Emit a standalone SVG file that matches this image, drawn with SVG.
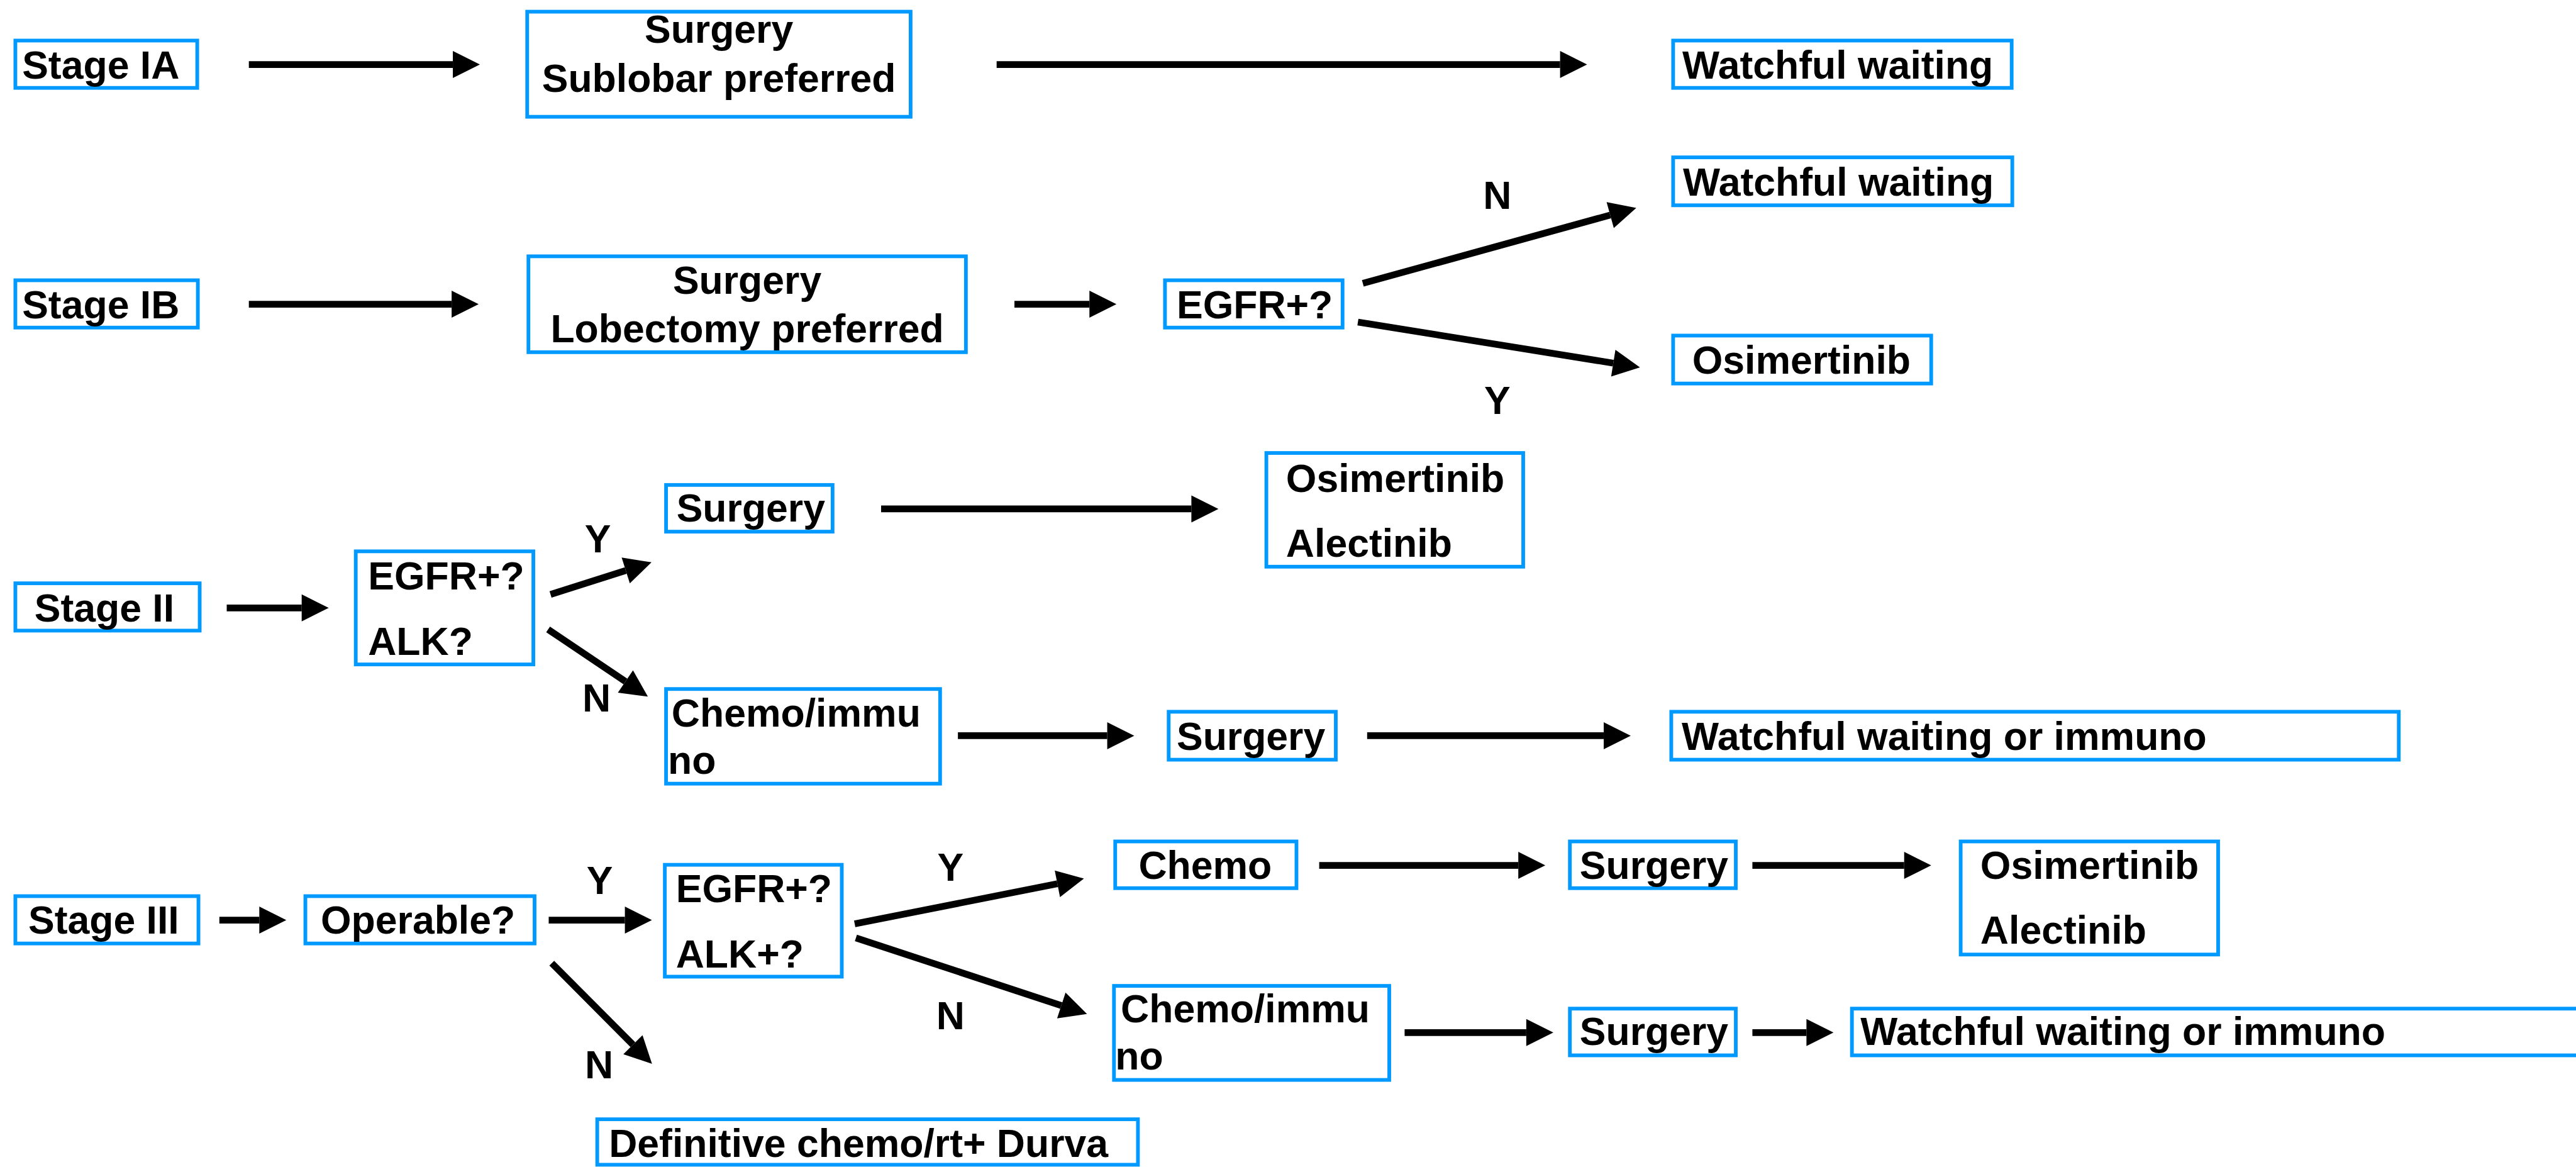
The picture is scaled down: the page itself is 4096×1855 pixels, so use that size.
<svg xmlns="http://www.w3.org/2000/svg" width="4096" height="1855" viewBox="0 0 4096 1855">
<style>
.box{fill:#ffffff;stroke:#0099FF;stroke-width:6}
.t{font-family:"Liberation Sans",Arial,sans-serif;font-weight:bold;font-size:64px;fill:#000000}
.m{text-anchor:middle}
.c{stroke:#000000;stroke-width:11;fill:none;marker-end:url(#ah)}
</style>
<defs>
<marker id="ah" markerUnits="userSpaceOnUse" viewBox="0 -22 44 44" markerWidth="44" markerHeight="44" refX="0" refY="0" orient="auto" overflow="visible">
<path d="M0,-22 L44,0 L0,22 Z" fill="#000000"/>
</marker>
</defs>
<rect width="4096" height="1855" fill="#ffffff"/>
<g transform="scale(0.977)">
<g id="connectors">
<line class="c" x1="405" y1="105" x2="737" y2="105"/>
<line class="c" x1="1622" y1="105" x2="2539" y2="105"/>
<line class="c" x1="405" y1="495" x2="735" y2="495"/>
<line class="c" x1="1651" y1="495" x2="1773" y2="495"/>
<line class="c" x1="2218" y1="461" x2="2620.6" y2="349.9"/>
<line class="c" x1="2210" y1="524" x2="2625.6" y2="590.8"/>
<line class="c" x1="369" y1="989" x2="491" y2="989"/>
<line class="c" x1="896" y1="967" x2="1018.4" y2="928.2"/>
<line class="c" x1="892" y1="1024" x2="1017.9" y2="1108.8"/>
<line class="c" x1="1434" y1="828" x2="1939" y2="828"/>
<line class="c" x1="1559" y1="1197" x2="1802" y2="1197"/>
<line class="c" x1="2225" y1="1197" x2="2610" y2="1197"/>
<line class="c" x1="357" y1="1497" x2="422" y2="1497"/>
<line class="c" x1="893" y1="1497" x2="1017" y2="1497"/>
<line class="c" x1="898" y1="1567" x2="1030.1" y2="1699.7"/>
<line class="c" x1="1391" y1="1503" x2="1720.9" y2="1437.9"/>
<line class="c" x1="1393" y1="1526" x2="1727.3" y2="1635.9"/>
<line class="c" x1="2147" y1="1408" x2="2471" y2="1408"/>
<line class="c" x1="2852" y1="1408" x2="3099" y2="1408"/>
<line class="c" x1="2286" y1="1680" x2="2484" y2="1680"/>
<line class="c" x1="2852" y1="1680" x2="2940" y2="1680"/>
</g>
<g id="labels">
<text class="t m" x="2437" y="340">N</text>
<text class="t m" x="2437" y="673">Y</text>
<text class="t m" x="973" y="899">Y</text>
<text class="t m" x="971" y="1158">N</text>
<text class="t m" x="976" y="1454">Y</text>
<text class="t m" x="975" y="1754">N</text>
<text class="t m" x="1547" y="1433">Y</text>
<text class="t m" x="1547" y="1675">N</text>
</g>
<g id="stage-ia"><rect class="box" x="25" y="66" width="296" height="77"/><text class="t" x="36" y="128">Stage IA</text></g>
<g id="surgery-sublobar"><rect class="box" x="858" y="19" width="624" height="171"/><text class="t m" x="1170" y="70">Surgery</text><text class="t m" x="1170" y="149">Sublobar preferred</text></g>
<g id="ww-ia"><rect class="box" x="2723" y="66" width="551" height="77"/><text class="t" x="2738" y="128">Watchful waiting</text></g>
<g id="stage-ib"><rect class="box" x="25" y="456" width="297" height="77"/><text class="t" x="36" y="518">Stage IB</text></g>
<g id="surgery-lobectomy"><rect class="box" x="860" y="417" width="712" height="156"/><text class="t m" x="1216" y="478">Surgery</text><text class="t m" x="1216" y="557">Lobectomy preferred</text></g>
<g id="egfr-ib"><rect class="box" x="1896" y="456" width="289" height="77"/><text class="t" x="1915" y="518">EGFR+?</text></g>
<g id="ww-ib"><rect class="box" x="2723" y="256" width="552" height="78"/><text class="t" x="2739" y="318">Watchful waiting</text></g>
<g id="osim-ib"><rect class="box" x="2723" y="546" width="420" height="78"/><text class="t" x="2754" y="608">Osimertinib</text></g>
<g id="stage-ii"><rect class="box" x="25" y="949" width="300" height="77"/><text class="t" x="56" y="1011">Stage II</text></g>
<g id="egfr-alk-ii"><rect class="box" x="579" y="897" width="289" height="184"/><text class="t" x="599" y="959">EGFR+?</text><text class="t" x="599" y="1065">ALK?</text></g>
<g id="surgery-ii"><rect class="box" x="1084" y="789" width="271" height="76"/><text class="t" x="1101" y="849">Surgery</text></g>
<g id="chemoimmuno-ii"><rect class="box" x="1084" y="1121" width="446" height="154"/><text class="t" x="1093" y="1182">Chemo/immu</text><text class="t" x="1087" y="1259">no</text></g>
<g id="osim-alec-ii"><rect class="box" x="2061" y="737" width="418" height="185"/><text class="t" x="2093" y="800">Osimertinib</text><text class="t" x="2093" y="906">Alectinib</text></g>
<g id="surgery-ii-b"><rect class="box" x="1902" y="1158" width="272" height="78"/><text class="t" x="1915" y="1220">Surgery</text></g>
<g id="ww-immuno-ii"><rect class="box" x="2720" y="1158" width="1184" height="78"/><text class="t" x="2737" y="1220">Watchful waiting or immuno</text></g>
<g id="stage-iii"><rect class="box" x="25" y="1458" width="298" height="77"/><text class="t" x="46" y="1519">Stage III</text></g>
<g id="operable"><rect class="box" x="497" y="1458" width="373" height="77"/><text class="t" x="522" y="1519">Operable?</text></g>
<g id="egfr-alk-iii"><rect class="box" x="1082" y="1407" width="288" height="182"/><text class="t" x="1100" y="1468">EGFR+?</text><text class="t" x="1100" y="1574">ALK+?</text></g>
<g id="definitive"><rect class="box" x="972" y="1821" width="880" height="74"/><text class="t" x="991" y="1882">Definitive chemo/rt+ Durva</text></g>
<g id="chemo-iii"><rect class="box" x="1815" y="1369" width="295" height="76"/><text class="t" x="1853" y="1430">Chemo</text></g>
<g id="surgery-iii-a"><rect class="box" x="2555" y="1369" width="270" height="76"/><text class="t" x="2571" y="1430">Surgery</text></g>
<g id="osim-alec-iii"><rect class="box" x="3191" y="1369" width="419" height="184"/><text class="t" x="3223" y="1430">Osimertinib</text><text class="t" x="3223" y="1535">Alectinib</text></g>
<g id="chemoimmuno-iii"><rect class="box" x="1813" y="1604" width="448" height="153"/><text class="t" x="1824" y="1663">Chemo/immu</text><text class="t" x="1815" y="1740">no</text></g>
<g id="surgery-iii-b"><rect class="box" x="2555" y="1641" width="270" height="76"/><text class="t" x="2571" y="1700">Surgery</text></g>
<g id="ww-immuno-iii"><rect class="box" x="3014" y="1641" width="1200" height="76"/><text class="t" x="3028" y="1700">Watchful waiting or immuno</text></g>
</g>
</svg>
